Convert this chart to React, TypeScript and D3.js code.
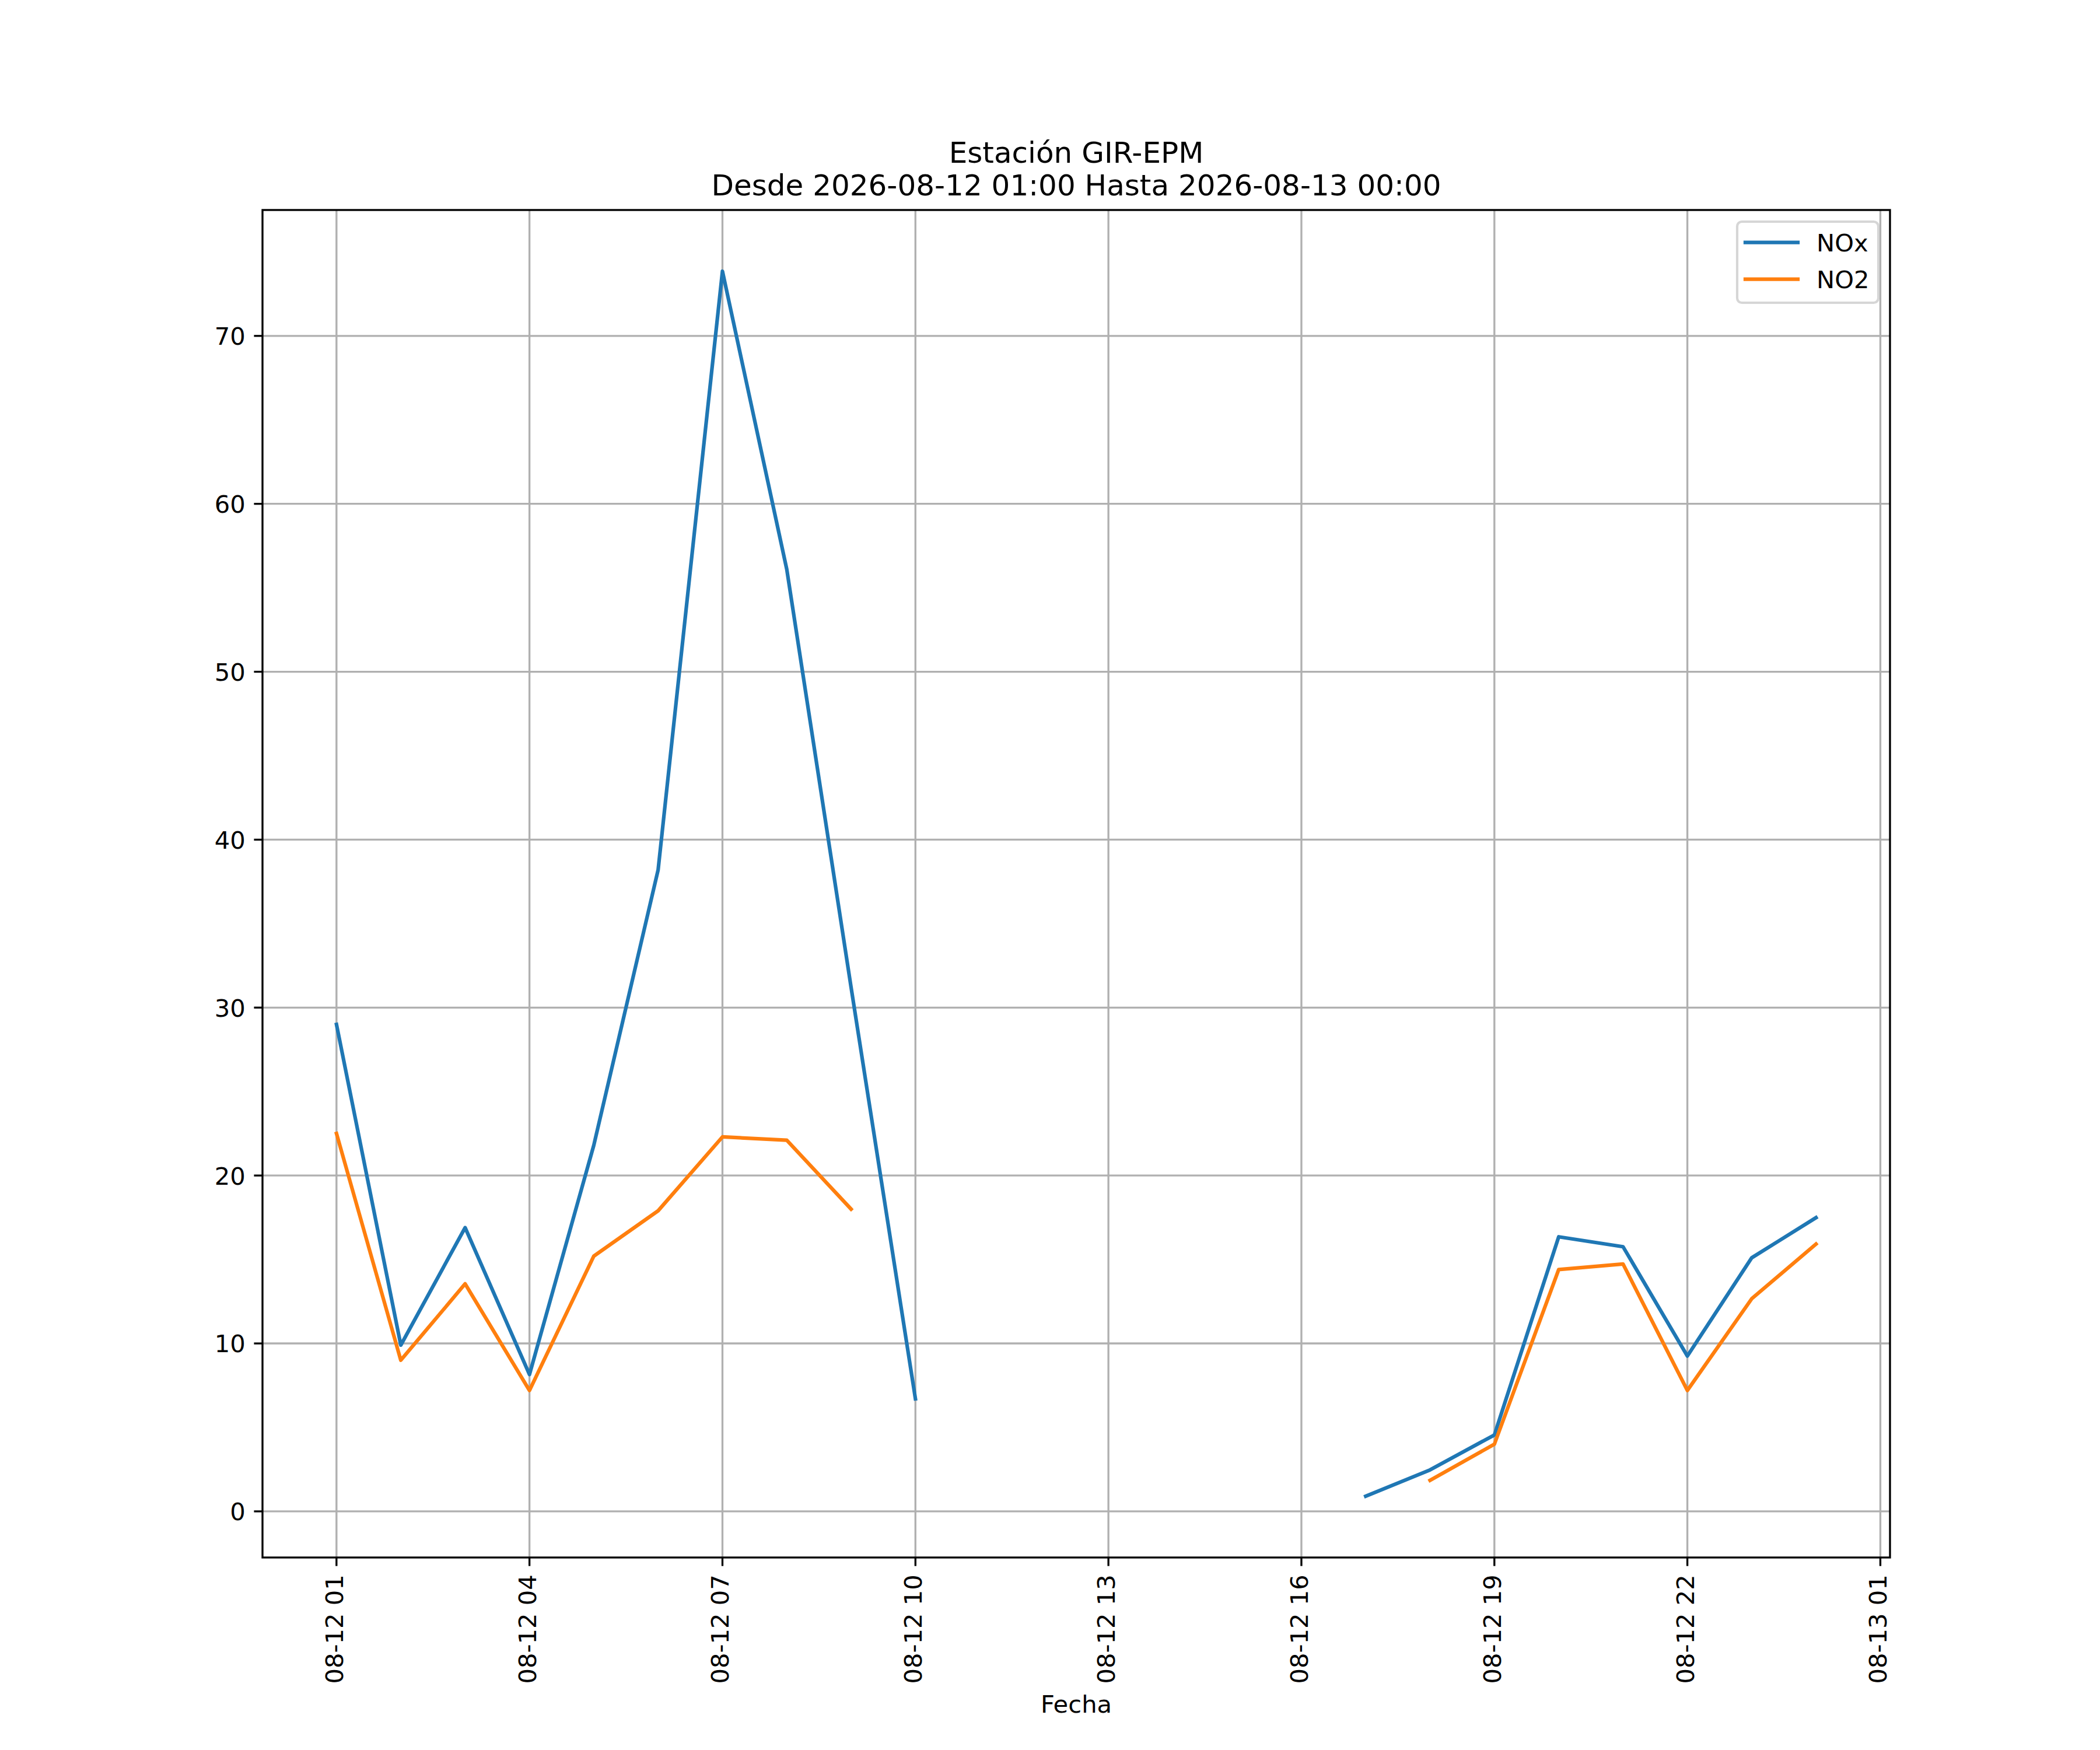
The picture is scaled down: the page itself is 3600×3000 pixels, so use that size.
import * as d3 from 'd3';

// hourly readings, 2026-08-12 01:00 .. 2026-08-13 00:00 (null = no data)
const times = [
  '2026-08-12 01:00', '2026-08-12 02:00', '2026-08-12 03:00', '2026-08-12 04:00',
  '2026-08-12 05:00', '2026-08-12 06:00', '2026-08-12 07:00', '2026-08-12 08:00',
  '2026-08-12 09:00', '2026-08-12 10:00', '2026-08-12 11:00', '2026-08-12 12:00',
  '2026-08-12 13:00', '2026-08-12 14:00', '2026-08-12 15:00', '2026-08-12 16:00',
  '2026-08-12 17:00', '2026-08-12 18:00', '2026-08-12 19:00', '2026-08-12 20:00',
  '2026-08-12 21:00', '2026-08-12 22:00', '2026-08-12 23:00', '2026-08-13 00:00',
];

const nox: (number | null)[] = [
  29.0, 9.9, 16.9, 8.15, 21.8, 38.2, 73.85, 56.1, 31.2, 6.7,
  null, null, null, null, null, null,
  0.9, 2.47, 4.55, 16.35, 15.76, 9.25, 15.1, 17.49,
];

const no2: (number | null)[] = [
  22.5, 9.0, 13.55, 7.2, 15.2, 17.9, 22.3, 22.1, 18.0, null,
  null, null, null, null, null, null,
  null, 1.85, 4.0, 14.4, 14.73, 7.2, 12.66, 15.92,
];

const xTicks = [
  '2026-08-12 01:00', '2026-08-12 04:00', '2026-08-12 07:00', '2026-08-12 10:00',
  '2026-08-12 13:00', '2026-08-12 16:00', '2026-08-12 19:00', '2026-08-12 22:00',
  '2026-08-13 01:00',
];
const yTicks = [0, 10, 20, 30, 40, 50, 60, 70];

const seriesNames = ['NOx', 'NO2'];
const seriesColors = ['#1f77b4', '#ff7f0e'];

const W = 3600;
const H = 3000;
const PT = 300 / 72; // matplotlib points -> px at 300 dpi
const margin = { left: 450, right: 360, top: 360, bottom: 330 };
const FONT = 'DejaVu Sans';

const parse = d3.utcParse('%Y-%m-%d %H:%M');
const fmt = d3.utcFormat('%m-%d %H');

function padded([lo, hi]: [number, number]): [number, number] {
  const m = (hi - lo) * 0.05;
  return [lo - m, hi + m];
}

export default function App() {
  const dates = times.map((t) => parse(t) as Date);
  const innerW = W - margin.left - margin.right;
  const innerH = H - margin.top - margin.bottom;
  const x0 = margin.left;
  const x1 = margin.left + innerW;
  const y0 = margin.top;
  const y1 = margin.top + innerH;

  const tExt = d3.extent(dates, (d) => +d) as [number, number];
  const [tLo, tHi] = padded(tExt);
  const x = d3.scaleUtc().domain([new Date(tLo), new Date(tHi)]).range([x0, x1]);

  const allVals = [...nox, ...no2].filter((v): v is number => v != null);
  const y = d3
    .scaleLinear()
    .domain(padded(d3.extent(allVals) as [number, number]))
    .range([y1, y0]);

  const line = d3
    .line<number | null>()
    .defined((v) => v != null)
    .x((_, i) => x(dates[i]))
    .y((v) => y(v as number));

  const series = [nox, no2];
  const gridW = 0.8 * PT;
  const tickLen = 3.5 * PT;
  const tickPad = 3.5 * PT;
  const fs = 10 * PT;

  const legX = 2978;
  const legY = 380;
  const rowY = [415.7, 478.7];

  return (
    <svg
      width={W}
      height={H}
      style={{ display: 'block', position: 'absolute', left: 0, top: 0, background: '#fff' }}
      fontFamily={FONT}
    >
      <rect x={0} y={0} width={W} height={H} fill="#fff" />

      {/* grid */}
      <g stroke="#b0b0b0" strokeWidth={gridW}>
        {xTicks.map((t) => {
          const px = x(parse(t) as Date);
          return <line key={t} x1={px} x2={px} y1={y0} y2={y1} />;
        })}
        {yTicks.map((v) => (
          <line key={v} x1={x0} x2={x1} y1={y(v)} y2={y(v)} />
        ))}
      </g>

      {/* data lines */}
      <defs>
        <clipPath id="plot">
          <rect x={x0} y={y0} width={innerW} height={innerH} />
        </clipPath>
      </defs>
      <g clipPath="url(#plot)" fill="none" strokeWidth={1.5 * PT} strokeLinecap="square" strokeLinejoin="round">
        {series.map((s, i) => (
          <path key={seriesNames[i]} d={line(s) ?? ''} stroke={seriesColors[i]} />
        ))}
      </g>

      {/* spines */}
      <rect x={x0} y={y0} width={innerW} height={innerH} fill="none" stroke="#000" strokeWidth={gridW} />

      {/* y axis */}
      <g fontSize={fs} fill="#000">
        {yTicks.map((v) => (
          <g key={v}>
            <line x1={x0 - tickLen} x2={x0} y1={y(v)} y2={y(v)} stroke="#000" strokeWidth={gridW} />
            <text x={x0 - tickLen - tickPad} y={y(v)} dy="0.37em" textAnchor="end">
              {v}
            </text>
          </g>
        ))}
      </g>

      {/* x axis */}
      <g fontSize={fs} fill="#000">
        {xTicks.map((t) => {
          const px = x(parse(t) as Date);
          return (
            <g key={t}>
              <line x1={px} x2={px} y1={y1} y2={y1 + tickLen} stroke="#000" strokeWidth={gridW} />
              <text
                transform={`translate(${px},${y1 + tickLen + tickPad}) rotate(-90)`}
                x={0}
                y={11}
                textAnchor="end"
              >
                {fmt(parse(t) as Date)}
              </text>
            </g>
          );
        })}
        <text x={(x0 + x1) / 2} y={2936} textAnchor="middle">
          Fecha
        </text>
      </g>

      {/* title */}
      <g fontSize={12 * PT} fill="#000" textAnchor="middle">
        <text x={(x0 + x1) / 2} y={279}>Estación GIR-EPM</text>
        <text x={(x0 + x1) / 2} y={335}>Desde 2026-08-12 01:00 Hasta 2026-08-13 00:00</text>
      </g>

      {/* legend */}
      <g>
        <rect
          x={legX}
          y={legY}
          width={242}
          height={139}
          rx={8}
          fill="#fff"
          fillOpacity={0.8}
          stroke="#d6d6d6"
          strokeWidth={1 * PT}
        />
        {seriesNames.map((name, i) => (
          <g key={name}>
            <line
              x1={2992}
              x2={3082}
              y1={rowY[i]}
              y2={rowY[i]}
              stroke={seriesColors[i]}
              strokeWidth={1.5 * PT}
              strokeLinecap="square"
            />
            <text x={3114} y={rowY[i]} dy="0.36em" fontSize={fs} fill="#000">
              {name}
            </text>
          </g>
        ))}
      </g>
    </svg>
  );
}
